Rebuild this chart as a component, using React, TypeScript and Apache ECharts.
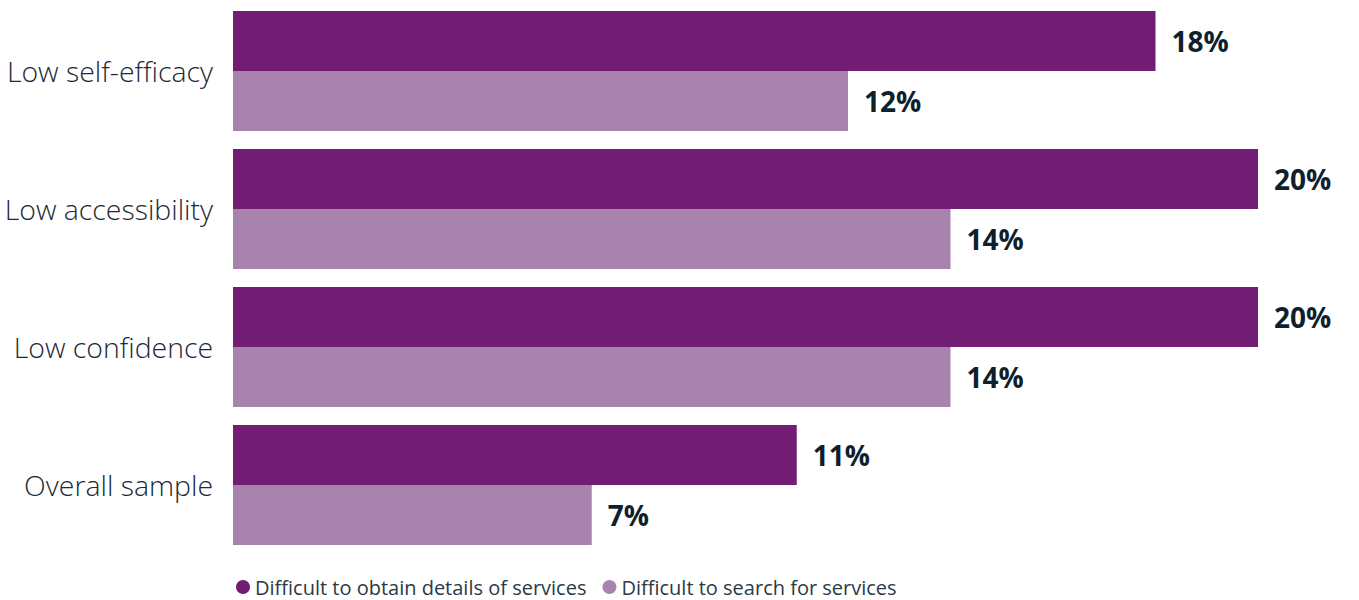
import React, { useEffect, useRef } from "react";
import * as echarts from "echarts";

const categories = ["Low self-efficacy", "Low accessibility", "Low confidence", "Overall sample"];
const seriesNames = ["Difficult to obtain details of services", "Difficult to search for services"];
const obtainValues = [18, 20, 20, 11];
const searchValues = [12, 14, 14, 7];

export default function App() {
  const ref = useRef<HTMLDivElement>(null);
  useEffect(() => {
    document.body.style.margin = "0";
    const chart = echarts.init(ref.current!, null, { renderer: "svg" });
    const labelStyle = {
      show: true,
      position: "right" as const,
      distance: 16,
      formatter: "{c}%",
      fontFamily: "Open Sans",
      fontWeight: "bold" as const,
      fontSize: 28,
      color: "#0f1f2e",
    };
    chart.setOption({
      animation: false,
      legend: {
        bottom: -2,
        left: 231,
        itemWidth: 14,
        itemHeight: 14,
        itemGap: 16,
        icon: "circle",
        textStyle: { fontFamily: "Open Sans", fontSize: 20, color: "#2b3a45" },
        data: seriesNames,
      },
      grid: { left: 233, right: 101, top: 2, bottom: 46, containLabel: false },
      xAxis: {
        type: "value",
        min: 0,
        max: 20,
        show: false,
      },
      yAxis: {
        type: "category",
        data: categories,
        inverse: true,
        axisLine: { show: false },
        axisTick: { show: false },
        axisLabel: {
          margin: 20,
          fontFamily: "Open Sans",
          fontWeight: 300,
          fontSize: 28.4,
          color: "#1c2a36",
        },
      },
      series: [
        {
          name: seriesNames[0],
          type: "bar",
          data: obtainValues,
          barGap: "0%",
          barCategoryGap: "13%",
          itemStyle: { color: "#721c73" },
          label: labelStyle,
        },
        {
          name: seriesNames[1],
          type: "bar",
          data: searchValues,
          barGap: "0%",
          barCategoryGap: "13%",
          itemStyle: { color: "#a883ad" },
          label: labelStyle,
        },
      ],
    });
    return () => chart.dispose();
  }, []);
  return <div ref={ref} style={{ width: 1359, height: 600 }} />;
}
